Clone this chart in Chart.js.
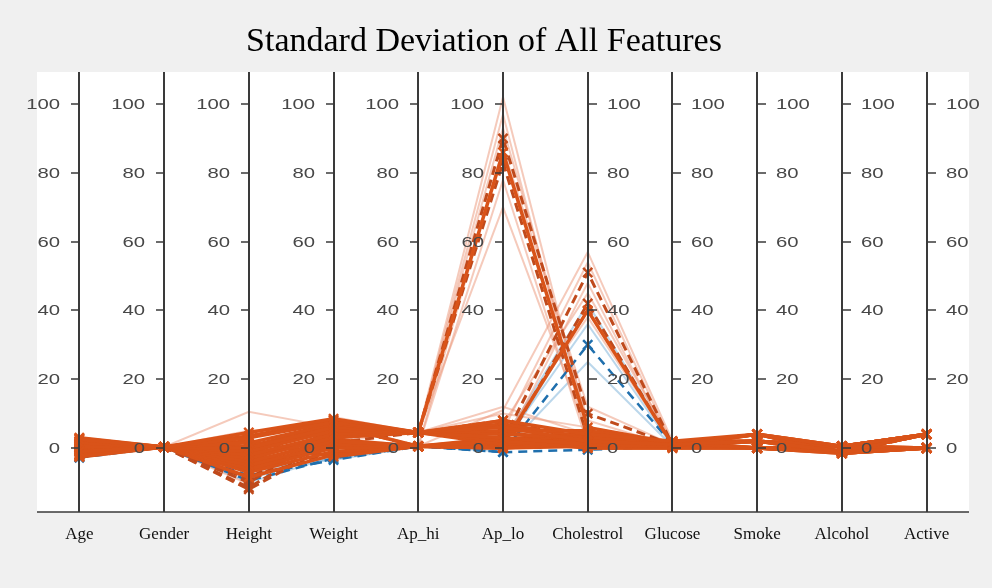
<!DOCTYPE html>
<html>
<head>
<meta charset="utf-8">
<script src="https://cdn.jsdelivr.net/npm/chart.js@4.4.1/dist/chart.umd.min.js"></script>
<style>
  html, body { margin: 0; padding: 0; background: #f0f0f0; overflow: hidden; }
  canvas { display: block; }
</style>
</head>
<body>
<canvas id="chart" width="992" height="588"></canvas>
<script>
// Feature axes and their tick labels
const features = ['Age', 'Gender', 'Height', 'Weight', 'Ap_hi', 'Ap_lo', 'Cholestrol', 'Glucose', 'Smoke', 'Alcohol', 'Active'];
const tickValues = [0, 20, 40, 60, 80, 100];
const chartTitle = 'Standard Deviation of All Features';

// Orange group: main profiles (solid, marked)
const orangeCore = [
  [ 2.5, 0.3,  4.5,  8.5, 4.5,  8.0,  4.0, 2.0, 4.0,  0.5, 4.0],
  [-1.0, 0.3,  3.0,  7.5, 4.5,  6.0,  2.0, 1.0, 2.0, -1.0, 0.0],
  [ 1.5, 0.3,  1.5,  7.0, 4.5,  5.0,  5.0, 1.5, 0.0, -1.5, 0.0],
  [-2.5, 0.3,  0.0,  6.0, 4.5,  3.0,  1.0, 0.5, 4.0,  0.5, 4.0],
  [ 0.5, 0.3, -1.0,  5.0, 4.5,  4.0,  3.0, 2.0, 2.0, -1.0, 4.0],
  [ 3.0, 0.3, -2.0,  4.0, 4.5,  2.0,  0.0, 0.0, 0.0,  0.5, 0.0],
  [-1.5, 0.3, -3.0,  3.0, 4.5,  1.0,  2.5, 1.0, 4.0, -1.5, 0.0],
  [ 1.0, 0.3, -4.0,  2.0, 0.5,  0.0,  1.5, 1.5, 2.0,  0.5, 4.0],
  [-2.0, 0.3, -5.0,  1.0, 0.5,  2.0,  4.0, 0.5, 0.0, -1.0, 0.0],
  [ 0.0, 0.3, -6.0,  0.0, 0.5,  1.0,  0.5, 1.0, 4.0,  0.5, 4.0],
  [ 2.0, 0.3, -7.0, -1.0, 0.5,  0.0,  3.5, 2.0, 2.0, -1.5, 0.0],
  [-0.5, 0.3,  2.0, -2.5, 0.5,  3.0,  0.0, 0.0, 0.0, -1.0, 0.0],
  [ 0.0, 0.3,  3.5,  8.0, 4.5,  7.0,  3.0, 1.0, 2.0,  0.5, 4.0],
  [ 1.8, 0.3,  0.5,  6.5, 4.5,  4.5,  2.0, 0.5, 4.0, -1.0, 0.0],
  [-2.2, 0.3, -0.5,  5.5, 4.5,  2.5,  4.5, 1.5, 2.0,  0.5, 4.0],
  [ 2.8, 0.3, -2.5,  3.5, 4.5,  6.5,  1.0, 2.0, 0.0, -1.5, 0.0],
  [-0.8, 0.3, -4.5,  2.5, 0.5,  1.5,  3.0, 1.0, 4.0, -1.0, 4.0],
  [ 1.2, 0.3, -5.5,  1.5, 0.5,  0.5,  2.0, 0.5, 2.0,  0.5, 0.0],
  [-2.6, 0.3, -6.5,  0.5, 0.5,  2.5,  1.0, 1.5, 0.0, -1.0, 4.0],
  [ 0.3, 0.3, -8.5, -2.0, 0.5,  0.0,  0.5, 1.0, 2.0, -1.5, 0.0],
  [ 1.0, 0.3, -1.5,  6.5, 0.5,  1.0, 40.0, 1.0, 2.0,  0.5, 0.0],
  [-1.0, 0.3, -3.5,  4.5, 4.5, 86.0,  6.0, 1.5, 0.0, -1.0, 4.0]
];

// Orange group: dashed profiles (marked)
const orangeDashed = [
  [ 0.5, 0.3, -11.5,  3.0, 4.5, 90.0, 10.0, 1.0, 2.0,  0.5, 4.0],
  [-1.0, 0.3, -10.0,  5.0, 4.5, 83.0,  3.0, 1.5, 0.0, -1.0, 0.0],
  [ 1.5, 0.3,  -9.0,  6.5, 0.5,  2.0, 51.0, 1.0, 4.0, -1.5, 4.0],
  [-2.0, 0.3,  -8.5, -1.5, 0.5,  0.0, 42.0, 0.5, 2.0,  0.5, 0.0],
  [ 2.0, 0.3, -12.0,  1.5, 4.5,  8.0,  2.0, 1.0, 0.0, -1.0, 4.0]
];

// Blue group: dashed profiles (marked)
const blueDashed = [
  [-2.5, 0.3, -8.0, -3.5, 0.5, -1.2, 30.0, 1.0, 0.0, -1.0, 0.0],
  [-2.8, 0.3, -9.5, -3.0, 0.5, -1.2, -0.5, 0.5, 0.0, -1.0, 0.0]
];

// Orange group: individual spread lines
const orangeSpread = [
  [ 2.0, 0.3, 10.5, 6.0, 4.5,  12.0,  4.0, 1.0, 2.0,  0.5, 4.0],
  [ 0.0, 0.3, -3.0, 9.0, 4.5, 102.0,  6.0, 2.0, 0.0, -1.0, 0.0],
  [-1.0, 0.3, -6.0, 5.0, 4.5,  97.0,  2.0, 1.0, 2.0, -1.0, 4.0],
  [ 1.0, 0.3, -8.0, 3.5, 4.5,  93.0,  8.0, 0.5, 4.0,  0.5, 0.0],
  [ 0.0, 0.3, -9.0, 2.5, 0.5,  87.0, 12.0, 1.0, 0.0, -1.5, 0.0],
  [-1.5, 0.3,-10.5, 6.5, 0.5,  78.0,  1.0, 1.5, 2.0,  0.5, 4.0],
  [ 2.5, 0.3, -4.0, 4.5, 4.5,  70.0,  4.0, 1.0, 0.0, -1.0, 0.0],
  [ 0.5, 0.3, -2.0, 7.5, 0.5,  11.0, 57.0, 2.0, 4.0, -1.0, 4.0],
  [-2.0, 0.3,  1.0, 2.0, 4.5,   5.0, 54.0, 1.0, 2.0,  0.5, 0.0],
  [ 1.5, 0.3, -5.0, 0.5, 0.5,   0.0, 48.0, 0.5, 0.0, -1.5, 0.0],
  [ 0.0, 0.3, -1.0, 8.0, 4.5,   7.0, 45.0, 1.5, 4.0,  0.5, 4.0],
  [-1.0, 0.3, -7.0, 3.0, 0.5,   3.0, 38.0, 1.0, 2.0, -1.0, 0.0],
  [ 1.0, 0.3,  5.0, 6.0, 4.5,  10.0,  6.0, 1.0, 0.0,  0.5, 4.0]
];

// Blue group: individual spread lines
const blueSpread = [
  [-2.8, 0.3,  -7.0, -3.0, 0.5,  0.0, 40.0, 1.0, 0.0, -1.0, 0.0],
  [-2.0, 0.3,  -9.0, -2.0, 0.5,  1.0, 36.0, 0.5, 0.0, -1.0, 0.0],
  [-2.5, 0.3,  -6.0, -3.5, 0.5,  2.0, 42.0, 1.0, 0.0, -1.0, 0.0],
  [-1.5, 0.3, -10.0, -2.5, 0.5, -1.0, 25.0, 0.5, 0.0, -1.0, 0.0]
];

const ORANGE = '#D95319';
const ORANGE_DARK = '#C04A1C';
const BLUE = '#1F6FAD';

const marker = { pointStyle: 'crossRot', pointRadius: 6.5, pointHoverRadius: 6.5, pointBorderWidth: 2.5, pointBackgroundColor: 'rgba(0,0,0,0)' };

const groupStyles = [
  { rows: orangeCore,   style: Object.assign({ borderColor: ORANGE, borderWidth: 3.5, pointBorderColor: ORANGE, order: 1 }, marker) },
  { rows: orangeDashed, style: Object.assign({ borderColor: ORANGE_DARK, borderWidth: 3, borderDash: [9, 5], pointBorderColor: ORANGE_DARK, order: 2 }, marker) },
  { rows: blueDashed,   style: Object.assign({ borderColor: BLUE, borderWidth: 2.5, borderDash: [9, 6], pointBorderColor: BLUE, order: 3 }, marker) },
  { rows: orangeSpread, style: { borderColor: 'rgba(236,150,120,0.5)', borderWidth: 2, pointRadius: 0, order: 4 } },
  { rows: blueSpread,   style: { borderColor: 'rgba(120,175,215,0.5)', borderWidth: 2, pointRadius: 0, order: 5 } }
];

const datasets = [];
groupStyles.forEach(g => {
  g.rows.forEach(row => {
    datasets.push(Object.assign({ data: row, fill: false, tension: 0 }, g.style));
  });
});

// Background, parallel axes, tick labels, title and feature names
const parallelAxes = {
  id: 'parallelAxes',
  beforeDraw(chart) {
    const { ctx, chartArea: a } = chart;
    ctx.save();
    ctx.fillStyle = '#f0f0f0';
    ctx.fillRect(0, 0, chart.width, chart.height);
    ctx.fillStyle = '#ffffff';
    ctx.fillRect(a.left, a.top, a.right - a.left, a.bottom - a.top);
    ctx.restore();
  },
  afterDatasetsDraw(chart) {
    const { ctx, chartArea: a, scales: { x, y } } = chart;
    ctx.save();
    ctx.strokeStyle = '#3a3a3a';
    ctx.lineWidth = 2;
    features.forEach((f, i) => {
      const px = Math.round(x.getPixelForValue(i));
      ctx.beginPath();
      ctx.moveTo(px, a.top);
      ctx.lineTo(px, a.bottom);
      ctx.stroke();
    });
    ctx.lineWidth = 1.5;
    ctx.beginPath();
    ctx.moveTo(a.left, a.bottom);
    ctx.lineTo(a.right, a.bottom);
    ctx.stroke();

    ctx.font = '14px "Liberation Sans", Arial, sans-serif';
    ctx.fillStyle = '#474747';
    ctx.textBaseline = 'middle';
    features.forEach((f, i) => {
      const px = Math.round(x.getPixelForValue(i));
      const leftSide = i <= 5;
      tickValues.forEach(v => {
        const py = Math.round(y.getPixelForValue(v));
        ctx.lineWidth = 1.5;
        ctx.beginPath();
        ctx.moveTo(px, py);
        ctx.lineTo(leftSide ? px - 8 : px + 9, py);
        ctx.stroke();
        ctx.save();
        ctx.translate(leftSide ? px - 19 : px + 19, py + 1);
        ctx.scale(1.45, 1);
        ctx.textAlign = leftSide ? 'right' : 'left';
        ctx.fillText(String(v), 0, 0);
        ctx.restore();
      });
    });
    ctx.restore();
  },
  afterDraw(chart) {
    const { ctx, scales: { x } } = chart;
    ctx.save();
    ctx.fillStyle = '#000000';
    ctx.textAlign = 'center';
    ctx.textBaseline = 'middle';
    ctx.font = '34px "Liberation Serif", "Times New Roman", serif';
    ctx.fillText(chartTitle, 484, 42);
    ctx.font = '17px "Liberation Serif", "Times New Roman", serif';
    ctx.fillStyle = '#111111';
    features.forEach((f, i) => {
      ctx.fillText(f, x.getPixelForValue(i), 535);
    });
    ctx.restore();
  }
};

new Chart(document.getElementById('chart'), {
  type: 'line',
  data: { labels: features, datasets: datasets },
  options: {
    responsive: false,
    animation: false,
    devicePixelRatio: 1,
    layout: { padding: { left: 37, right: 23, top: 72, bottom: 76 } },
    scales: {
      x: { type: 'category', offset: true, display: false },
      y: { min: -18.6, max: 109.3, display: false }
    },
    plugins: {
      legend: { display: false },
      tooltip: { enabled: false },
      title: { display: false }
    },
    events: []
  },
  plugins: [parallelAxes]
});
</script>
</body>
</html>
